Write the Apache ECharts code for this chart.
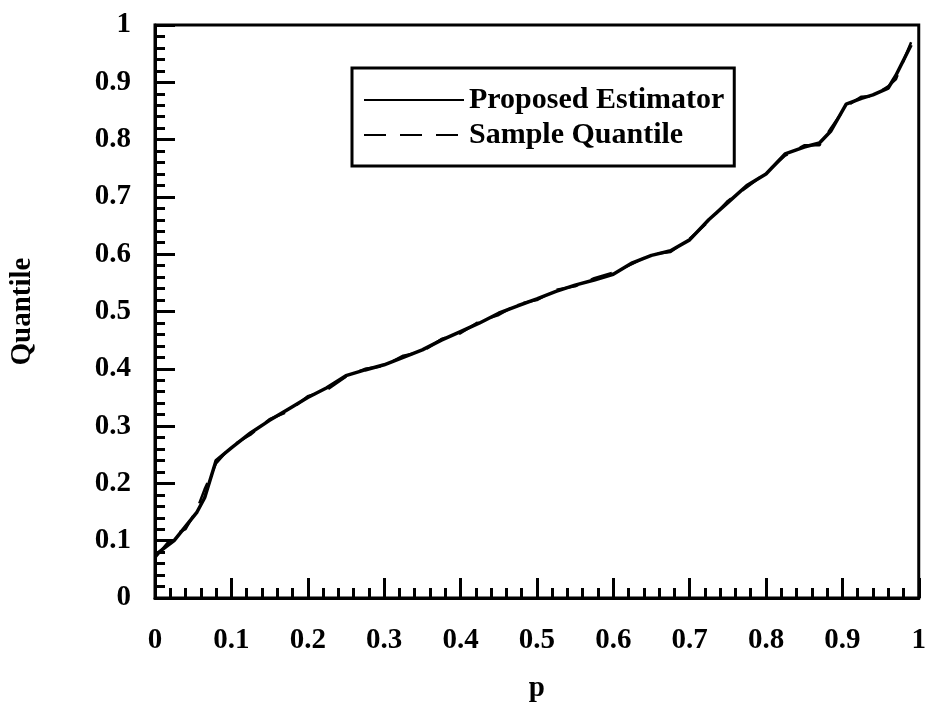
<!DOCTYPE html>
<html lang="en">

<head>
    <meta charset="UTF-8">
    <title>Quantile</title>
    <style>
        html, body { margin: 0; padding: 0; background: #fff; }
        .div { width: 929px; height: 721px; }
    </style>
</head>

<body>
    <div class="div"></div>
    <script src="https://cdn.jsdelivr.net/npm/echarts@6/dist/echarts.min.js"></script>
    <script>
        // 横轴 p
        var pArr = [0, 0.025, 0.04, 0.055, 0.065, 0.08, 0.1, 0.125, 0.15, 0.175, 0.2, 0.225, 0.25, 0.275, 0.3,
            0.325, 0.35, 0.375, 0.4, 0.425, 0.45, 0.475, 0.5, 0.525, 0.55, 0.575, 0.6, 0.625, 0.65, 0.675,
            0.7, 0.725, 0.75, 0.775, 0.8, 0.825, 0.85, 0.87, 0.885, 0.905, 0.925, 0.94, 0.96, 0.97, 0.99]
        // Proposed Estimator
        var estArr = [0.075, 0.1, 0.125, 0.15, 0.175, 0.24, 0.262, 0.288, 0.31, 0.33, 0.35, 0.367, 0.388, 0.398, 0.407,
            0.42, 0.433, 0.45, 0.465, 0.48, 0.497, 0.51, 0.522, 0.535, 0.546, 0.555, 0.565, 0.585, 0.598, 0.606,
            0.625, 0.66, 0.69, 0.72, 0.74, 0.775, 0.787, 0.794, 0.815, 0.862, 0.872, 0.878, 0.89, 0.912, 0.965]
        // Sample Quantile
        var sampArr = [0.07, 0.11, 0.12, 0.155, 0.19, 0.235, 0.265, 0.285, 0.312, 0.326, 0.352, 0.363, 0.386, 0.4, 0.405,
            0.423, 0.43, 0.452, 0.462, 0.483, 0.494, 0.513, 0.52, 0.538, 0.544, 0.558, 0.568, 0.583, 0.6, 0.604,
            0.627, 0.657, 0.693, 0.717, 0.742, 0.772, 0.79, 0.79, 0.82, 0.858, 0.875, 0.876, 0.893, 0.905, 0.97]
        var tickArr = [0, 0.1, 0.2, 0.3, 0.4, 0.5, 0.6, 0.7, 0.8, 0.9, 1]

        var font = 'Liberation Serif'
        var estData = pArr.map(function (p, i) { return [p, estArr[i]] })
        var sampData = pArr.map(function (p, i) { return [p, sampArr[i]] })

        var myecharts = echarts.init(document.getElementsByClassName('div')[0]);
        var axisCommon = {
            type: 'value',
            min: tickArr[0],
            max: tickArr[tickArr.length - 1],
            interval: 0.1,
            axisLine: { show: true, onZero: false, lineStyle: { color: '#000', width: 3 } },
            axisTick: { show: true, inside: true, length: 20, lineStyle: { color: '#000', width: 3 } },
            minorTick: { show: true, splitNumber: 5, length: 10, lineStyle: { color: '#000', width: 3 } },
            splitLine: { show: false },
            axisLabel: { color: '#000', fontFamily: font, fontWeight: 'bold', fontSize: 29 },
            nameTextStyle: { color: '#000', fontFamily: font, fontWeight: 'bold', fontSize: 29 }
        }
        var option = {
            animation: false,
            backgroundColor: '#fff',
            grid: { left: 151, right: 9, top: 25, bottom: 123, show: true, borderColor: '#000', borderWidth: 3 },
            legend: {
                orient: 'vertical',
                left: 352,
                top: 68,
                padding: [17, 10, 16, 11],
                itemGap: 5,
                itemWidth: 100,
                itemHeight: 20,
                borderColor: '#000',
                borderWidth: 3,
                // 图例里不要圆点
                itemStyle: { color: 'transparent', borderWidth: 0 },
                textStyle: { color: '#000', fontFamily: font, fontWeight: 'bold', fontSize: 30 },
                data: ['Proposed Estimator', 'Sample Quantile']
            },
            xAxis: Object.assign({}, axisCommon, {
                name: 'p',
                nameLocation: 'middle',
                nameGap: 76,
                axisLabel: Object.assign({}, axisCommon.axisLabel, { margin: 28 })
            }),
            yAxis: Object.assign({}, axisCommon, {
                name: 'Quantile',
                nameLocation: 'middle',
                nameRotate: 90,
                nameGap: 118,
                axisLabel: Object.assign({}, axisCommon.axisLabel, { margin: 24 })
            }),
            series: [
                {
                    name: 'Proposed Estimator',
                    type: 'line',
                    data: estData,
                    symbol: 'none',
                    lineStyle: { color: '#000', width: 3.5 },
                    itemStyle: { color: '#000' }
                },
                {
                    name: 'Sample Quantile',
                    type: 'line',
                    data: sampData,
                    symbol: 'none',
                    lineStyle: { color: '#000', width: 2.5, type: [22, 14] },
                    itemStyle: { color: '#000' }
                }
            ]
        }
        myecharts.setOption(option);
    </script>
</body>

</html>
